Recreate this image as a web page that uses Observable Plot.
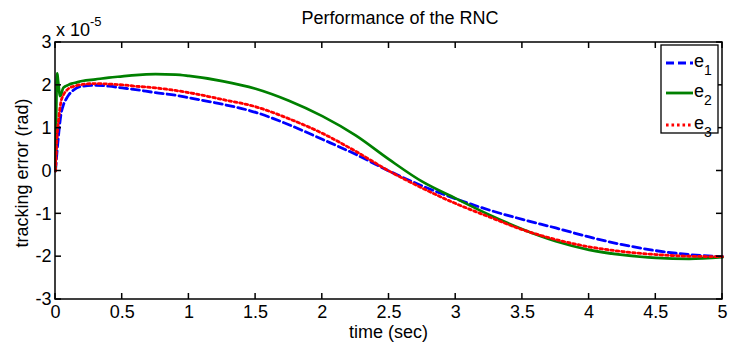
<!DOCTYPE html>
<html><head><meta charset="utf-8">
<script src="https://cdn.jsdelivr.net/npm/d3@7"></script>
<script src="https://cdn.jsdelivr.net/npm/@observablehq/plot@0.6"></script>
<style>body{margin:0;background:#fff}</style>
</head><body><div id="chart"></div>
<script>
const xTicks = [0, 0.5, 1, 1.5, 2, 2.5, 3, 3.5, 4, 4.5, 5];
const yTicks = [-3, -2, -1, 0, 1, 2, 3];
const seriesNames = ["e1", "e2", "e3"];
const seriesColors = ["#0000ff", "#008000", "#ff0000"];

const e1T = [0, 0.01, 0.025, 0.04, 0.06, 0.08, 0.1, 0.14, 0.2, 0.3, 0.4, 0.5, 0.6, 0.75, 0.9, 1.0, 1.25, 1.5, 1.75, 2.0, 2.25, 2.5, 2.75, 3.0, 3.25, 3.5, 3.75, 4.0, 4.25, 4.5, 4.75, 5.0];
const e1V = [0, 0.4, 0.9, 1.3, 1.55, 1.68, 1.78, 1.9, 1.98, 2.0, 1.98, 1.94, 1.9, 1.83, 1.77, 1.71, 1.56, 1.37, 1.08, 0.74, 0.39, 0.0, -0.35, -0.65, -0.91, -1.13, -1.33, -1.54, -1.72, -1.86, -1.95, -2.0];

const e2T = [0, 0.004, 0.008, 0.013, 0.018, 0.025, 0.033, 0.042, 0.055, 0.07, 0.09, 0.12, 0.16, 0.2, 0.3, 0.4, 0.5, 0.6, 0.75, 0.9, 1.0, 1.25, 1.5, 1.75, 2.0, 2.25, 2.5, 2.75, 3.0, 3.25, 3.5, 3.75, 4.0, 4.25, 4.5, 4.75, 5.0];
const e2V = [0, 0.9, 1.9, 2.28, 2.15, 1.95, 1.75, 1.78, 1.92, 1.97, 2.0, 2.04, 2.07, 2.1, 2.14, 2.18, 2.21, 2.24, 2.26, 2.25, 2.22, 2.1, 1.92, 1.64, 1.28, 0.83, 0.27, -0.25, -0.64, -1.02, -1.36, -1.64, -1.84, -1.96, -2.03, -2.05, -2.01];

const e3T = [0, 0.01, 0.025, 0.04, 0.06, 0.08, 0.1, 0.14, 0.2, 0.3, 0.4, 0.5, 0.6, 0.75, 0.9, 1.0, 1.25, 1.5, 1.75, 2.0, 2.25, 2.5, 2.75, 3.0, 3.25, 3.5, 3.75, 4.0, 4.25, 4.5, 4.75, 5.0];
const e3V = [0, 0.7, 1.25, 1.6, 1.78, 1.87, 1.93, 1.98, 2.02, 2.04, 2.03, 2.01, 1.98, 1.94, 1.88, 1.83, 1.67, 1.5, 1.22, 0.88, 0.46, 0.0, -0.4, -0.76, -1.07, -1.37, -1.6, -1.77, -1.88, -1.95, -1.99, -2.0];

const rows = (ts, vs) => ts.map((t, i) => ({t, v: vs[i]}));
const e1 = rows(e1T, e1V), e2 = rows(e2T, e2V), e3 = rows(e3T, e3V);

const FONT = "'Liberation Sans', Arial, Helvetica, sans-serif";
const FS = 18;
const W = 738, H = 342, ML = 55, MR = 16, MT = 42, MB = 43, TK = 6;
const plot = Plot.plot({
  width: W, height: H,
  marginLeft: ML, marginRight: MR, marginTop: MT, marginBottom: MB,
  style: {fontFamily: FONT, fontSize: FS + "px", background: "white", color: "black", overflow: "visible"},
  x: {domain: [0, 5]},
  y: {domain: [-3, 3]},
  marks: [
    Plot.line(e1, {x: "t", y: "v", stroke: seriesColors[0], strokeWidth: 2.8, strokeDasharray: "8,4", curve: "monotone-x"}),
    Plot.line(e2, {x: "t", y: "v", stroke: seriesColors[1], strokeWidth: 2.7, curve: "monotone-x"}),
    Plot.line(e3, {x: "t", y: "v", stroke: seriesColors[2], strokeWidth: 2.8, strokeDasharray: "2.6,2.9", curve: "monotone-x"}),
    Plot.axisX(xTicks, {anchor: "bottom", tickSize: 0, tickPadding: 6, tickFormat: d => String(d), label: null, fontSize: FS}),
    Plot.axisY(yTicks, {anchor: "left", tickSize: 0, tickPadding: 4, tickFormat: d => String(d), label: null, fontSize: FS})
  ]
});
document.getElementById("chart").appendChild(plot);

const svg = d3.select(plot);
const xs = plot.scale("x"), ys = plot.scale("y");
const x0 = ML, x1 = W - MR, y0 = MT, y1 = H - MB;
const tg = svg.append("g").attr("stroke", "#000").attr("stroke-width", 1.5).attr("fill", "none");
tg.append("rect").attr("x", x0).attr("y", y0).attr("width", x1 - x0).attr("height", y1 - y0);
xTicks.forEach(v => {
  const px = xs.apply(v);
  tg.append("line").attr("x1", px).attr("x2", px).attr("y1", y1).attr("y2", y1 - TK);
  tg.append("line").attr("x1", px).attr("x2", px).attr("y1", y0).attr("y2", y0 + TK);
});
yTicks.forEach(v => {
  const py = ys.apply(v);
  tg.append("line").attr("x1", x0).attr("x2", x0 + TK).attr("y1", py).attr("y2", py);
  tg.append("line").attr("x1", x1).attr("x2", x1 - TK).attr("y1", py).attr("y2", py);
});

const g = svg.append("g").attr("font-family", FONT).attr("fill", "black").attr("text-anchor", "start");
g.append("text").attr("x", 400).attr("y", 24).attr("text-anchor", "middle").attr("font-size", FS).text("Performance of the RNC");
g.append("text").attr("x", 388.5).attr("y", 338).attr("text-anchor", "middle").attr("font-size", FS).text("time (sec)");
g.append("text").attr("transform", "translate(28,173) rotate(-90)").attr("text-anchor", "middle").attr("font-size", FS).text("tracking error (rad)");
const ex = g.append("text").attr("x", 56).attr("y", 36).attr("font-size", FS).attr("text-anchor", "start");
ex.append("tspan").text("x 10");
ex.append("tspan").attr("dy", -10).attr("font-size", 13).text("-5");

// legend
const lg = svg.append("g").attr("font-family", FONT).attr("text-anchor", "start");
lg.append("rect").attr("x", 661).attr("y", 45).attr("width", 57).attr("height", 88).attr("fill", "white").attr("stroke", "black").attr("stroke-width", 1.3);
const lys = [63, 93, 125];
const dashes = ["8,4", null, "2.6,2.9"];
seriesNames.forEach((n, i) => {
  lg.append("line").attr("x1", 666).attr("x2", 693).attr("y1", lys[i]).attr("y2", lys[i])
    .attr("stroke", seriesColors[i]).attr("stroke-width", 2.8).attr("stroke-dasharray", dashes[i]);
  const t = lg.append("text").attr("x", 694).attr("y", lys[i] + 4).attr("font-size", FS).attr("fill", "black").attr("text-anchor", "start");
  t.append("tspan").text(n[0]);
  t.append("tspan").attr("dy", 8).attr("font-size", 14).text(n.slice(1));
});
</script>
</body></html>
